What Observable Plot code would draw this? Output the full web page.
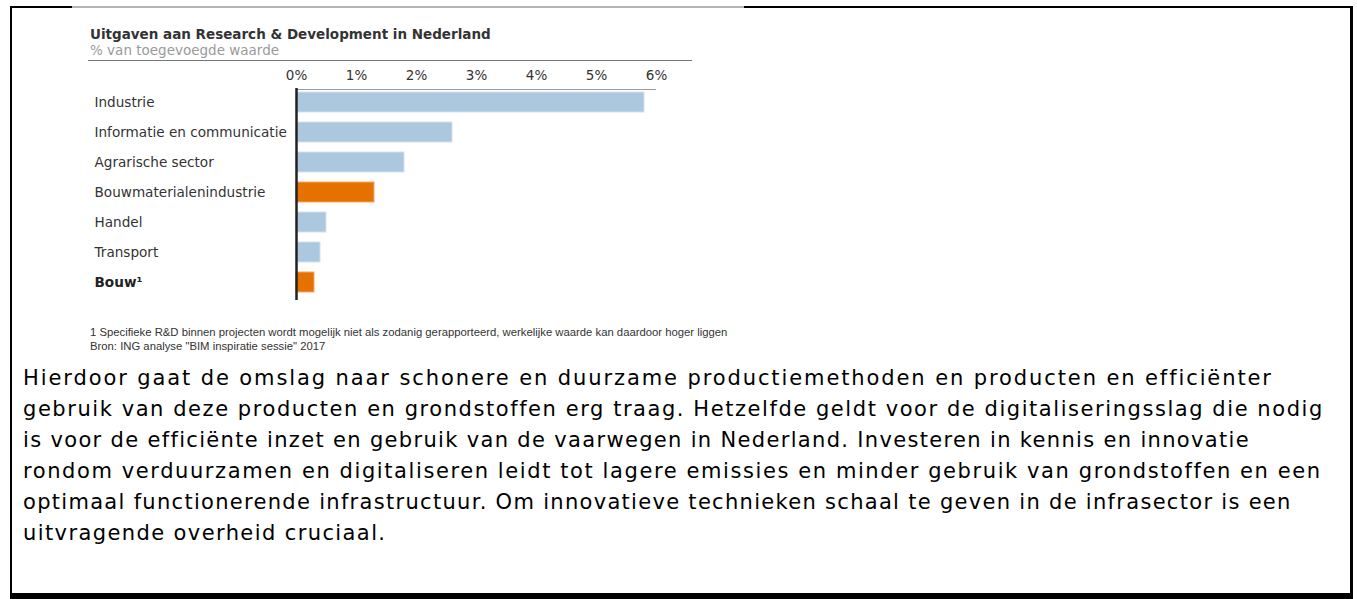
<!DOCTYPE html>
<html>
<head>
<meta charset="utf-8">
<script src="https://cdn.jsdelivr.net/npm/d3@7"></script>
<script src="https://cdn.jsdelivr.net/npm/@observablehq/plot@0.6"></script>
<style>
  html, body { margin: 0; padding: 0; background: #fff; }
  body { width: 1357px; height: 599px; position: relative; overflow: hidden; font-family: "DejaVu Sans", Verdana, sans-serif; }
  .frame { position: absolute; left: 10px; top: 6px; width: 1343px; height: 593px;
           border-left: 2px solid #000; border-right: 3px solid #000; border-top: 2px solid #000; border-bottom: 6px solid #000; box-sizing: border-box; }
  .grayline { position: absolute; left: 72px; top: 6px; width: 672px; height: 2px; background: #b5b5b5; }
  .title { position: absolute; left: 90px; top: 26px; font: bold 13.5px "DejaVu Sans", sans-serif; color: #333; line-height: 16px; white-space: nowrap; }
  .subtitle { position: absolute; left: 90px; top: 42px; font: 13.5px "DejaVu Sans", sans-serif; color: #9a9a9a; line-height: 16px; white-space: nowrap; }
  .rule { position: absolute; left: 88px; top: 60px; width: 604px; height: 1px; background: #777; }
  .foot { position: absolute; left: 90px; top: 325px; font: 11.3px "Liberation Sans", Arial, sans-serif; color: #333; line-height: 14px; white-space: nowrap; }
  .para { position: absolute; left: 23px; top: 363px; font: 21px "DejaVu Sans", Verdana, sans-serif; color: #000; line-height: 31px; white-space: nowrap; }
  .para span { display: block; }
  #chart { position: absolute; left: 0; top: 0; }
</style>
</head>
<body>
<div class="frame"></div>
<div class="grayline"></div>
<div class="title">Uitgaven aan Research &amp; Development in Nederland</div>
<div class="subtitle">% van toegevoegde waarde</div>
<div class="rule"></div>
<div id="chart"></div>
<div class="foot">1 Specifieke R&amp;D binnen projecten wordt mogelijk niet als zodanig gerapporteerd, werkelijke waarde kan daardoor hoger liggen<br>Bron: ING analyse "BIM inspiratie sessie" 2017</div>
<div class="para"><span style="letter-spacing:1.9px">Hierdoor gaat de omslag naar schonere en duurzame productiemethoden en producten en efficiënter</span><span style="letter-spacing:1.56px">gebruik van deze producten en grondstoffen erg traag. Hetzelfde geldt voor de digitaliseringsslag die nodig</span><span style="letter-spacing:1.33px">is voor de efficiënte inzet en gebruik van de vaarwegen in Nederland. Investeren in kennis en innovatie</span><span style="letter-spacing:1.59px">rondom verduurzamen en digitaliseren leidt tot lagere emissies en minder gebruik van grondstoffen en een</span><span style="letter-spacing:1.3px">optimaal functionerende infrastructuur. Om innovatieve technieken schaal te geven in de infrasector is een</span><span style="letter-spacing:1.4px">uitvragende overheid cruciaal.</span></div>
<script>
const categories = ["Industrie", "Informatie en communicatie", "Agrarische sector", "Bouwmaterialenindustrie", "Handel", "Transport", "Bouw"];
const labels = ["Industrie", "Informatie en communicatie", "Agrarische sector", "Bouwmaterialenindustrie", "Handel", "Transport", "Bouw¹"];
const values = [5.8, 2.6, 1.8, 1.3, 0.5, 0.4, 0.3];
const highlighted = [false, false, false, true, false, false, true];
const boldLabel = [false, false, false, false, false, false, true];
const ticks = [0, 1, 2, 3, 4, 5, 6];

const data = categories.map((c, i) => ({cat: c, label: labels[i], value: values[i], hi: highlighted[i], bold: boldLabel[i]}));

const chart = Plot.plot({
  width: 750,
  height: 310,
  marginLeft: 296,
  marginRight: 94,
  marginTop: 82,
  marginBottom: 8,
  style: {fontFamily: "DejaVu Sans, sans-serif", fontSize: "13px", color: "#333", background: "transparent", overflow: "visible"},
  x: {domain: [0, 6], ticks: ticks, label: null},
  y: {domain: categories, padding: 0.33, axis: null},
  marks: [
    Plot.barX(data, {x: "value", y: "cat", fill: d => d.hi ? "#e57200" : "#abc8df", stroke: d => d.hi ? "#f2a96b" : "#d3e2ee", strokeWidth: 1}),
    Plot.ruleY(["Industrie"], {y: d => d, x1: 0, x2: 6, dy: -13, stroke: "#9a9a9a", strokeWidth: 1}),
    Plot.ruleX(ticks.slice(1), {x: d => d, y: () => "Industrie", dy: -3, insetBottom: 17, stroke: "#9a9a9a", strokeWidth: 1}),
    Plot.ruleX([0], {x: d => d, insetTop: 6, insetBottom: 2, stroke: "#222", strokeWidth: 2.5}),
    Plot.axisX({anchor: "top", ticks: ticks, tickSize: 0, tickPadding: 3, label: null, tickFormat: d => d + "%", fill: "#333", fontSize: 13.5}),
    Plot.text(data.filter(d => !d.bold), {y: "cat", text: "label", frameAnchor: "left", dx: -202, textAnchor: "start", fill: "#333", fontSize: 13.6}),
    Plot.text(data.filter(d => d.bold), {y: "cat", text: "label", frameAnchor: "left", dx: -202, textAnchor: "start", fill: "#222", fontSize: 13.6, fontWeight: "bold"})
  ]
});
document.getElementById("chart").appendChild(chart);
</script>
</body>
</html>
